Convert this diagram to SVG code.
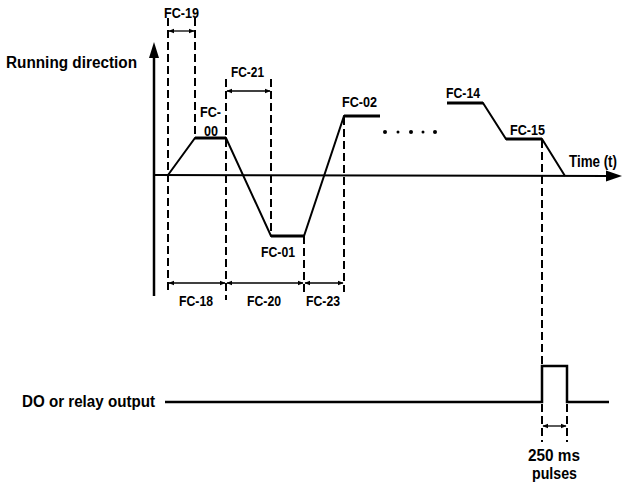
<svg xmlns="http://www.w3.org/2000/svg" width="625" height="486" viewBox="0 0 625 486">
<style>
text{font-family:"Liberation Sans",Arial,sans-serif;font-weight:bold;font-size:16px;fill:#000}
.fc{font-size:15px}
.dash{stroke:#000;stroke-width:2;stroke-dasharray:8 4;fill:none}
.ln{stroke:#000;stroke-width:2;fill:none}
.plat{stroke:#000;stroke-width:3;fill:none}
.dim{stroke:#000;stroke-width:1.3;fill:none;marker-start:url(#ah);marker-end:url(#ah)}
</style>
<defs>
<marker id="ah" viewBox="0 0 10 10" refX="9" refY="5" markerWidth="6" markerHeight="6" markerUnits="userSpaceOnUse" orient="auto-start-reverse">
<path d="M0,1 L10,5 L0,9 Z" fill="#000"/>
</marker>
</defs>
<rect width="625" height="486" fill="#fff"/>
<g id="connectors">
<g id="axes">
<line x1="154" y1="55" x2="154" y2="296" stroke="#000" stroke-width="2.5"/>
<path d="M154,42 L149,58 L159,58 Z" fill="#000"/>
<line x1="154" y1="175" x2="608" y2="176" stroke="#000" stroke-width="2"/>
<path d="M622,176 L606,170.5 L606,181.5 Z" fill="#000"/>
</g>
<g id="guides">
<line class="dash" x1="168" y1="18" x2="168" y2="292"/>
<line class="dash" x1="195" y1="18" x2="195" y2="138"/>
<line class="dash" x1="226" y1="79" x2="226" y2="300"/>
<line class="dash" x1="271" y1="79" x2="271" y2="236"/>
<line class="dash" x1="304" y1="236" x2="304" y2="292"/>
<line class="dash" x1="344" y1="117" x2="344" y2="292"/>
<line class="dash" x1="542" y1="140" x2="542" y2="366"/>
<line class="dash" x1="542" y1="404" x2="542" y2="442"/>
<line class="dash" x1="567" y1="404" x2="567" y2="442"/>
</g>
<g id="trajectory">
<polyline class="ln" points="168,175 195,138 226,138 271,236 304,236 344,116 380,116"/>
<line class="plat" x1="195" y1="138" x2="226" y2="138"/>
<line class="plat" x1="271" y1="236" x2="304" y2="236"/>
<line class="plat" x1="344" y1="116" x2="380" y2="116"/>
<polyline class="ln" points="447,103 483,103 506,139 542,139 565,176"/>
<line class="plat" x1="447" y1="103" x2="483" y2="103"/>
<line class="plat" x1="506" y1="139" x2="542" y2="139"/>
<g id="dots" fill="#000">
<circle cx="385" cy="132" r="2"/>
<circle cx="398" cy="132" r="1.5"/>
<circle cx="411" cy="132" r="2"/>
<circle cx="423" cy="132" r="1.5"/>
<circle cx="435" cy="132" r="2"/>
</g>
</g>
<g id="do-signal">
<polyline points="165,402 542,402 542,366 567,366 567,402 609,402" fill="none" stroke="#000" stroke-width="2.5"/>
</g>
<g id="dimensions">
<line class="dim" x1="169" y1="31" x2="194" y2="31"/>
<line class="dim" x1="227" y1="91" x2="270" y2="91"/>
<line class="dim" x1="169" y1="283" x2="225" y2="283"/>
<line class="dim" x1="227" y1="283" x2="303" y2="283"/>
<line class="dim" x1="305" y1="283" x2="343" y2="283"/>
<line class="dim" x1="543" y1="426" x2="566" y2="426"/>
</g>
</g>
<g id="label-running"><text x="6" y="68" textLength="131" lengthAdjust="spacingAndGlyphs">Running direction</text></g>
<g id="label-time"><text x="569" y="167" textLength="48" lengthAdjust="spacingAndGlyphs">Time (t)</text></g>
<g id="label-do"><text x="22" y="407" textLength="133" lengthAdjust="spacingAndGlyphs">DO or relay output</text></g>
<g id="label-fc19"><text class="fc" x="164" y="18" textLength="35" lengthAdjust="spacingAndGlyphs">FC-19</text></g>
<g id="label-fc21"><text class="fc" x="231" y="77" textLength="33" lengthAdjust="spacingAndGlyphs">FC-21</text></g>
<g id="label-fc00"><text class="fc" x="200" y="117" textLength="21" lengthAdjust="spacingAndGlyphs">FC-</text><text class="fc" x="204" y="136" textLength="14" lengthAdjust="spacingAndGlyphs">00</text></g>
<g id="label-fc01"><text class="fc" x="261" y="257" textLength="34" lengthAdjust="spacingAndGlyphs">FC-01</text></g>
<g id="label-fc02"><text class="fc" x="342" y="107" textLength="35" lengthAdjust="spacingAndGlyphs">FC-02</text></g>
<g id="label-fc14"><text class="fc" x="446" y="98" textLength="34" lengthAdjust="spacingAndGlyphs">FC-14</text></g>
<g id="label-fc15"><text class="fc" x="510" y="135" textLength="35" lengthAdjust="spacingAndGlyphs">FC-15</text></g>
<g id="label-fc18"><text class="fc" x="179" y="306" textLength="34" lengthAdjust="spacingAndGlyphs">FC-18</text></g>
<g id="label-fc20"><text class="fc" x="247" y="306" textLength="34" lengthAdjust="spacingAndGlyphs">FC-20</text></g>
<g id="label-fc23"><text class="fc" x="306" y="306" textLength="34" lengthAdjust="spacingAndGlyphs">FC-23</text></g>
<g id="label-pulse"><text x="528" y="461" textLength="52" lengthAdjust="spacingAndGlyphs">250 ms</text><text x="532" y="479" textLength="45" lengthAdjust="spacingAndGlyphs">pulses</text></g>
</svg>
